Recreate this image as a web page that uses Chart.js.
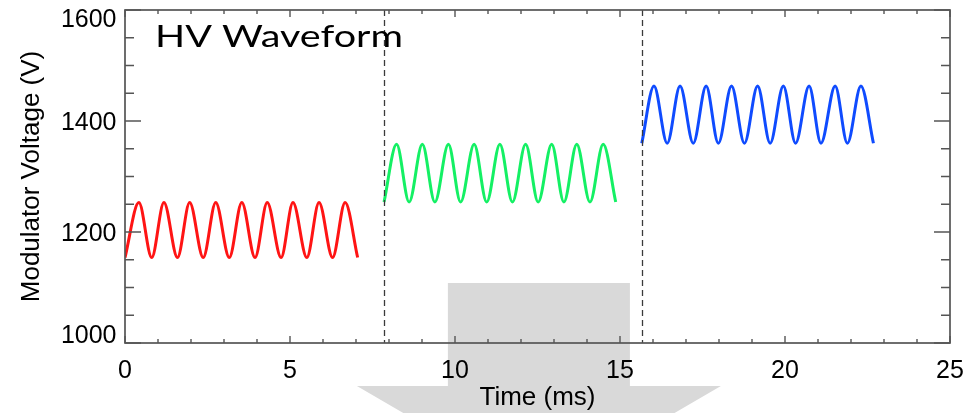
<!DOCTYPE html>
<html>
<head>
<meta charset="utf-8">
<script src="https://cdn.jsdelivr.net/npm/chart.js@4.4.1/dist/chart.umd.min.js"></script>
<style>
  html, body { margin: 0; padding: 0; background: #ffffff; }
  #wrap { width: 967px; height: 413px; }
</style>
</head>
<body>
<div id="wrap"><canvas id="c" width="967" height="413"></canvas></div>
<script>
// ---- data (extrema of each waveform segment) ----
const redTime   = [0, 0.42, 0.81, 1.18, 1.59, 1.96, 2.37, 2.75, 3.16, 3.54, 3.94, 4.31, 4.73, 5.09, 5.51, 5.88, 6.29, 6.67, 7.05];
const redVolt   = [1154, 1253, 1154, 1253, 1154, 1253, 1154, 1253, 1154, 1253, 1154, 1253, 1154, 1253, 1154, 1253, 1154, 1253, 1154];
const greenTime = [7.85, 8.23, 8.61, 9.01, 9.39, 9.80, 10.17, 10.58, 10.96, 11.36, 11.74, 12.14, 12.52, 12.93, 13.30, 13.69, 14.09, 14.49, 14.87];
const greenVolt = [1254, 1358, 1254, 1358, 1254, 1358, 1254, 1358, 1254, 1358, 1254, 1358, 1254, 1358, 1254, 1358, 1254, 1358, 1254];
const blueTime  = [15.66, 16.03, 16.43, 16.82, 17.22, 17.61, 17.98, 18.38, 18.77, 19.17, 19.55, 19.95, 20.32, 20.73, 21.09, 21.52, 21.89, 22.30, 22.68];
const blueVolt  = [1360, 1463, 1360, 1463, 1360, 1463, 1360, 1463, 1360, 1463, 1360, 1463, 1360, 1463, 1360, 1463, 1360, 1463, 1360];
const markerTimes = [7.84, 15.66];          // dashed vertical lines
const xTickLabels = [0, 5, 10, 15, 20, 25];
const yTickLabels = [1000, 1200, 1400, 1600];
const xMinorStep = 1;
const yMinorStep = 50;
const chartTitle = 'HV Waveform';
const xTitle = 'Time (ms)';
const yTitle = 'Modulator Voltage (V)';

function pts(t, v) { return t.map((x, i) => ({ x: x, y: v[i] })); }

const LABEL_FONT = '25px "Liberation Sans", Arial, sans-serif';
const AXIS_COLOR = '#555555';

const decor = {
  id: 'decor',
  beforeDraw(chart) {
    const ctx = chart.ctx, a = chart.chartArea;
    // big light-grey arrow behind the axis
    const cx = (a.left + a.right) / 2 + 1.4;
    ctx.save();
    ctx.fillStyle = '#d9d9d9';
    ctx.beginPath();
    ctx.moveTo(cx - 91, a.bottom - 60);
    ctx.lineTo(cx + 91, a.bottom - 60);
    ctx.lineTo(cx + 91, a.bottom + 43);
    ctx.lineTo(cx + 182, a.bottom + 43);
    ctx.lineTo(cx, a.bottom + 149);
    ctx.lineTo(cx - 182, a.bottom + 43);
    ctx.lineTo(cx - 91, a.bottom + 43);
    ctx.closePath();
    ctx.fill();
    ctx.restore();
  },
  afterDraw(chart) {
    const ctx = chart.ctx, a = chart.chartArea;
    const xs = chart.scales.x, ys = chart.scales.y;
    ctx.save();
    // dashed markers
    ctx.strokeStyle = '#3a3a3a';
    ctx.lineWidth = 1.3;
    ctx.setLineDash([6, 4]);
    markerTimes.forEach(t => {
      const px = Math.round(xs.getPixelForValue(t)) + 0.5;
      ctx.beginPath();
      ctx.moveTo(px, a.top);
      ctx.lineTo(px, a.bottom);
      ctx.stroke();
    });
    ctx.setLineDash([]);
    // box
    ctx.strokeStyle = AXIS_COLOR;
    ctx.lineWidth = 1.7;
    ctx.strokeRect(a.left, a.top, a.right - a.left, a.bottom - a.top);
    // ticks (inward, all four sides)
    ctx.lineWidth = 1.4;
    ctx.beginPath();
    for (let v = xs.min; v <= xs.max + 1e-9; v += xMinorStep) {
      const px = xs.getPixelForValue(v);
      const major = xTickLabels.includes(Math.round(v));
      const len = major ? 7 : 4;
      ctx.moveTo(px, a.bottom); ctx.lineTo(px, a.bottom - len);
      ctx.moveTo(px, a.top); ctx.lineTo(px, a.top + len);
    }
    for (let v = ys.min; v <= ys.max + 1e-9; v += yMinorStep) {
      const py = ys.getPixelForValue(v);
      const major = yTickLabels.includes(Math.round(v));
      const len = major ? 16 : 9;
      ctx.moveTo(a.left, py); ctx.lineTo(a.left + len, py);
      ctx.moveTo(a.right, py); ctx.lineTo(a.right - len, py);
    }
    ctx.stroke();
    // tick labels
    ctx.fillStyle = '#000';
    ctx.font = LABEL_FONT;
    ctx.textBaseline = 'alphabetic';
    ctx.textAlign = 'center';
    xTickLabels.forEach(v => {
      ctx.fillText(String(v), xs.getPixelForValue(v), a.bottom + 34.5);
    });
    ctx.textAlign = 'right';
    yTickLabels.forEach(v => {
      let b = ys.getPixelForValue(v) + 8.7;
      b = Math.max(b, a.top + 17.2);
      b = Math.min(b, a.bottom);
      ctx.fillText(String(v), a.left - 8.5, b);
    });
    // in-plot title (wide geometric look: stretch horizontally)
    ctx.textAlign = 'left';
    ctx.font = '400 31px Lato, "DejaVu Sans", sans-serif';
    const w = ctx.measureText(chartTitle).width;
    const sx = 248 / w;
    ctx.translate(a.left + 30, a.top + 36.7);
    ctx.scale(sx, 1);
    ctx.fillText(chartTitle, 0, 0);
    ctx.restore();
  }
};

new Chart(document.getElementById('c'), {
  type: 'line',
  data: {
    datasets: [
      { data: pts(redTime, redVolt),   borderColor: 'rgb(255,20,20)' },
      { data: pts(greenTime, greenVolt), borderColor: 'rgb(20,240,100)' },
      { data: pts(blueTime, blueVolt),  borderColor: 'rgb(15,75,255)' }
    ]
  },
  options: {
    responsive: false,
    devicePixelRatio: 1,
    animation: false,
    layout: { padding: { top: 10, right: 17, left: 0, bottom: 0 } },
    elements: {
      line: { borderWidth: 3, cubicInterpolationMode: 'monotone', fill: false },
      point: { radius: 0, hoverRadius: 0 }
    },
    plugins: { legend: { display: false }, tooltip: { enabled: false } },
    scales: {
      x: {
        type: 'linear', min: 0, max: 25,
        grid: { display: false }, border: { display: false },
        ticks: { display: false, stepSize: 5 },
        title: { display: true, text: xTitle, color: '#000',
                 font: { family: '"Liberation Sans", Arial, sans-serif', size: 26 },
                 padding: { top: 0, bottom: 0 } },
        afterFit(s) { s.height = 70; }
      },
      y: {
        type: 'linear', min: 1000, max: 1600,
        grid: { display: false }, border: { display: false },
        ticks: { display: false, stepSize: 200 },
        title: { display: true, text: yTitle, color: '#000',
                 font: { family: '"Liberation Sans", Arial, sans-serif', size: 26 },
                 padding: { top: 16, bottom: 0 } },
        afterFit(s) { s.width = 125; }
      }
    }
  },
  plugins: [decor]
});
</script>
</body>
</html>
